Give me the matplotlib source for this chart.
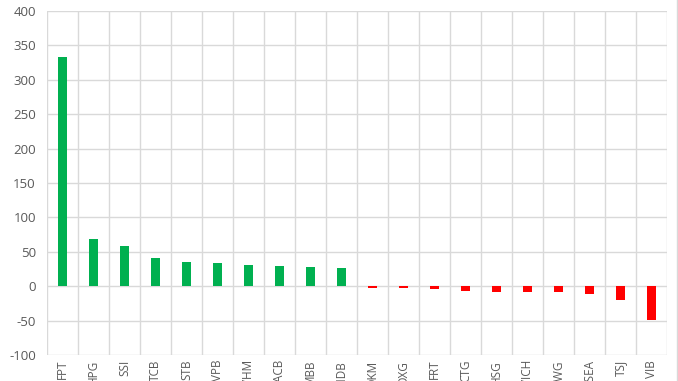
import matplotlib
matplotlib.use("Agg")
import matplotlib.pyplot as plt
import numpy as np

tickers = ["FPT", "HPG", "SSI", "TCB", "STB", "VPB", "VHM", "ACB", "MBB", "BIDB",
           "DKM", "DXG", "FRT", "CTG", "HSG", "VICH", "PWG", "GSEA", "TSJ", "VIB"]
values = [333, 69, 59, 41, 35, 33, 31, 30, 28, 26,
          -2, -3, -4, -7, -8, -8, -8, -11, -20, -49]
y_ticks = [-100, -50, 0, 50, 100, 150, 200, 250, 300, 350, 400]

GREEN = "#00B050"
RED = "#FF0000"
GRID = "#D9D9D9"
TEXT = "#595959"


def main():
    plt.rcParams["font.family"] = ["Open Sans", "DejaVu Sans"]
    fig = plt.figure(figsize=(6.78, 3.81), dpi=100)
    ax = fig.add_axes([47 / 678, 26 / 381, 620 / 678, 344 / 381])

    x = np.arange(len(tickers))
    colors = [GREEN if v >= 0 else RED for v in values]
    ax.bar(x, values, width=0.3, color=colors, zorder=3)

    ax.set_xlim(-0.5, len(tickers) - 0.5)
    ax.set_ylim(y_ticks[0], y_ticks[-1])
    ax.set_yticks(y_ticks)
    ax.set_yticklabels([str(t) for t in y_ticks], color=TEXT, fontsize=9.5)
    ax.set_xticks(x)
    ax.set_xticklabels(tickers, rotation=90, color=TEXT, fontsize=8.5, va="top")
    ax.set_xticks(np.arange(len(tickers) + 1) - 0.5, minor=True)

    ax.tick_params(axis="both", which="both", length=0)
    ax.tick_params(axis="y", pad=8)
    ax.tick_params(axis="x", pad=3.5)
    ax.grid(axis="y", which="major", color=GRID, linewidth=1, zorder=0)
    ax.grid(axis="x", which="minor", color=GRID, linewidth=1, zorder=0)
    for s in ax.spines.values():
        s.set_visible(False)

    # chart frame on the right edge
    fig.add_artist(plt.Line2D([677 / 678, 677 / 678], [0, 1], color=GRID,
                              linewidth=1, transform=fig.transFigure))

    fig.savefig("out.png", dpi=100, facecolor="white")


if __name__ == "__main__":
    main()
